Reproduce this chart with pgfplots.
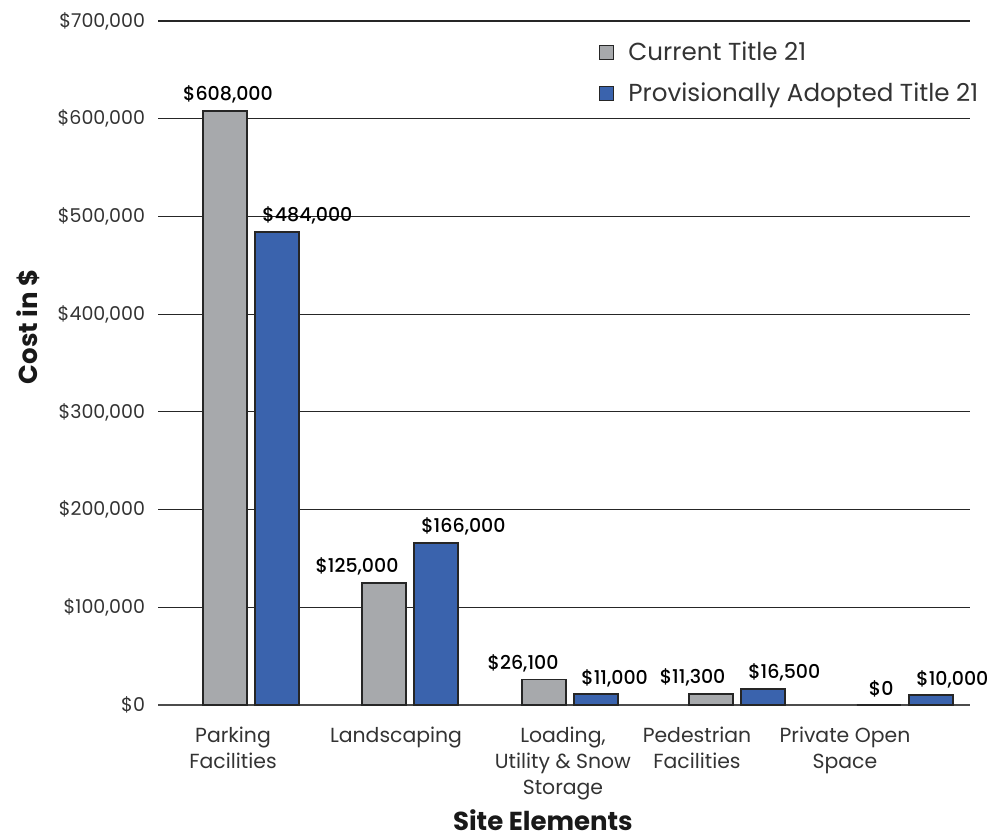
\documentclass[border=0pt]{standalone}
\usepackage{fontspec}
\setmainfont{Poppins}
\newfontfamily\medfont{Poppins Medium}
\usepackage{pgfplots}
\pgfplotsset{compat=1.18}

\definecolor{curgray}{HTML}{A7A9AC}
\definecolor{provblue}{HTML}{3A63AD}
\definecolor{txtgray}{HTML}{333333}

\begin{document}
\begin{tikzpicture}
\useasboundingbox (0,0) rectangle (494pt,-418.5pt);
\begin{axis}[
  at={(79pt,-352.5pt)}, anchor=south west,
  scale only axis, width=406pt, height=342pt,
  ybar, bar width=22pt,
  xmin=-0.569, xmax=4.398,
  ymin=0, ymax=700000,
  ytick={0,100000,200000,300000,400000,500000,600000,700000},
  scaled y ticks=false,
  yticklabel={\$\pgfmathprintnumber[fixed,1000 sep={,},assume math mode=true]{\tick}},
  yticklabel style={text=txtgray, font=\fontsize{9.5}{11}\selectfont, xshift=-3pt},
  xtick={-0.11,0.887,1.908,2.728,3.633},
  xticklabels={{Parking\\Facilities},{Landscaping},{Loading,\\Utility \& Snow\\Storage},{Pedestrian\\Facilities},{Private Open\\Space}},
  xticklabel style={align=center, text=txtgray, font=\fontsize{10.2}{13}\selectfont, yshift=-7.5pt},
  major tick length=0pt,
  tick style={draw=none},
  axis x line*=bottom, axis y line*=left,
  y axis line style={draw=none},
  x axis line style={draw=black!70, line width=1pt},
  ymajorgrids,
  major grid style={draw=black!85, line width=0.6pt},
  ylabel={Cost in \$},
  ylabel style={font=\bfseries\fontsize{13}{15}\selectfont, text=black!90,
    at={(axis description cs:-0.16,0.553)}, anchor=center},
  xlabel={Site Elements},
  xlabel style={font=\bfseries\fontsize{13}{15}\selectfont, text=black!90,
    at={(axis description cs:0.474,0)}, anchor=center, yshift=-57.5pt},
  nodes near coords={\$\pgfmathprintnumber[fixed,1000 sep={,},assume math mode=true]{\pgfplotspointmeta}},
  every node near coord/.append style={font=\medfont\fontsize{9.5}{11}\selectfont, text=black, yshift=0pt},
  legend cell align=left,
  legend style={at={(rel axis cs:0.535,0.982)}, anchor=north west, draw=none, fill=none,
    font=\fontsize{12.3}{14}\selectfont, text=txtgray, row sep=5.5pt},
  legend image code/.code={\draw[#1] (0pt,-3.5pt) rectangle (7pt,3.5pt); \path (12pt,0pt);},
]
% Current Title 21: labels sit flush with the right edge of each bar
\addplot[bar shift=-13pt, fill=curgray, draw=black!85, line width=0.8pt,
  every node near coord/.append style={anchor=south east, xshift=11pt}]
  coordinates {(0.972,125000) (1.951,26100) (2.972,11300) (4,0)};
% the tallest bar carries a centred label
\addplot[forget plot, bar shift=-13pt, fill=curgray, draw=black!85, line width=0.8pt,
  every node near coord/.append style={xshift=1.5pt}]
  coordinates {(0,608000)};
% Provisionally Adopted Title 21: labels start at the left edge of each bar
\addplot[bar shift=13pt, fill=provblue, draw=black!85, line width=0.8pt,
  every node near coord/.append style={anchor=south west, xshift=-11pt}]
  coordinates {(0,484000) (0.972,166000) (1.951,11000) (2.972,16500) (4,10000)};
\legend{Current Title 21, Provisionally Adopted Title 21}
\end{axis}
\end{tikzpicture}
\end{document}
